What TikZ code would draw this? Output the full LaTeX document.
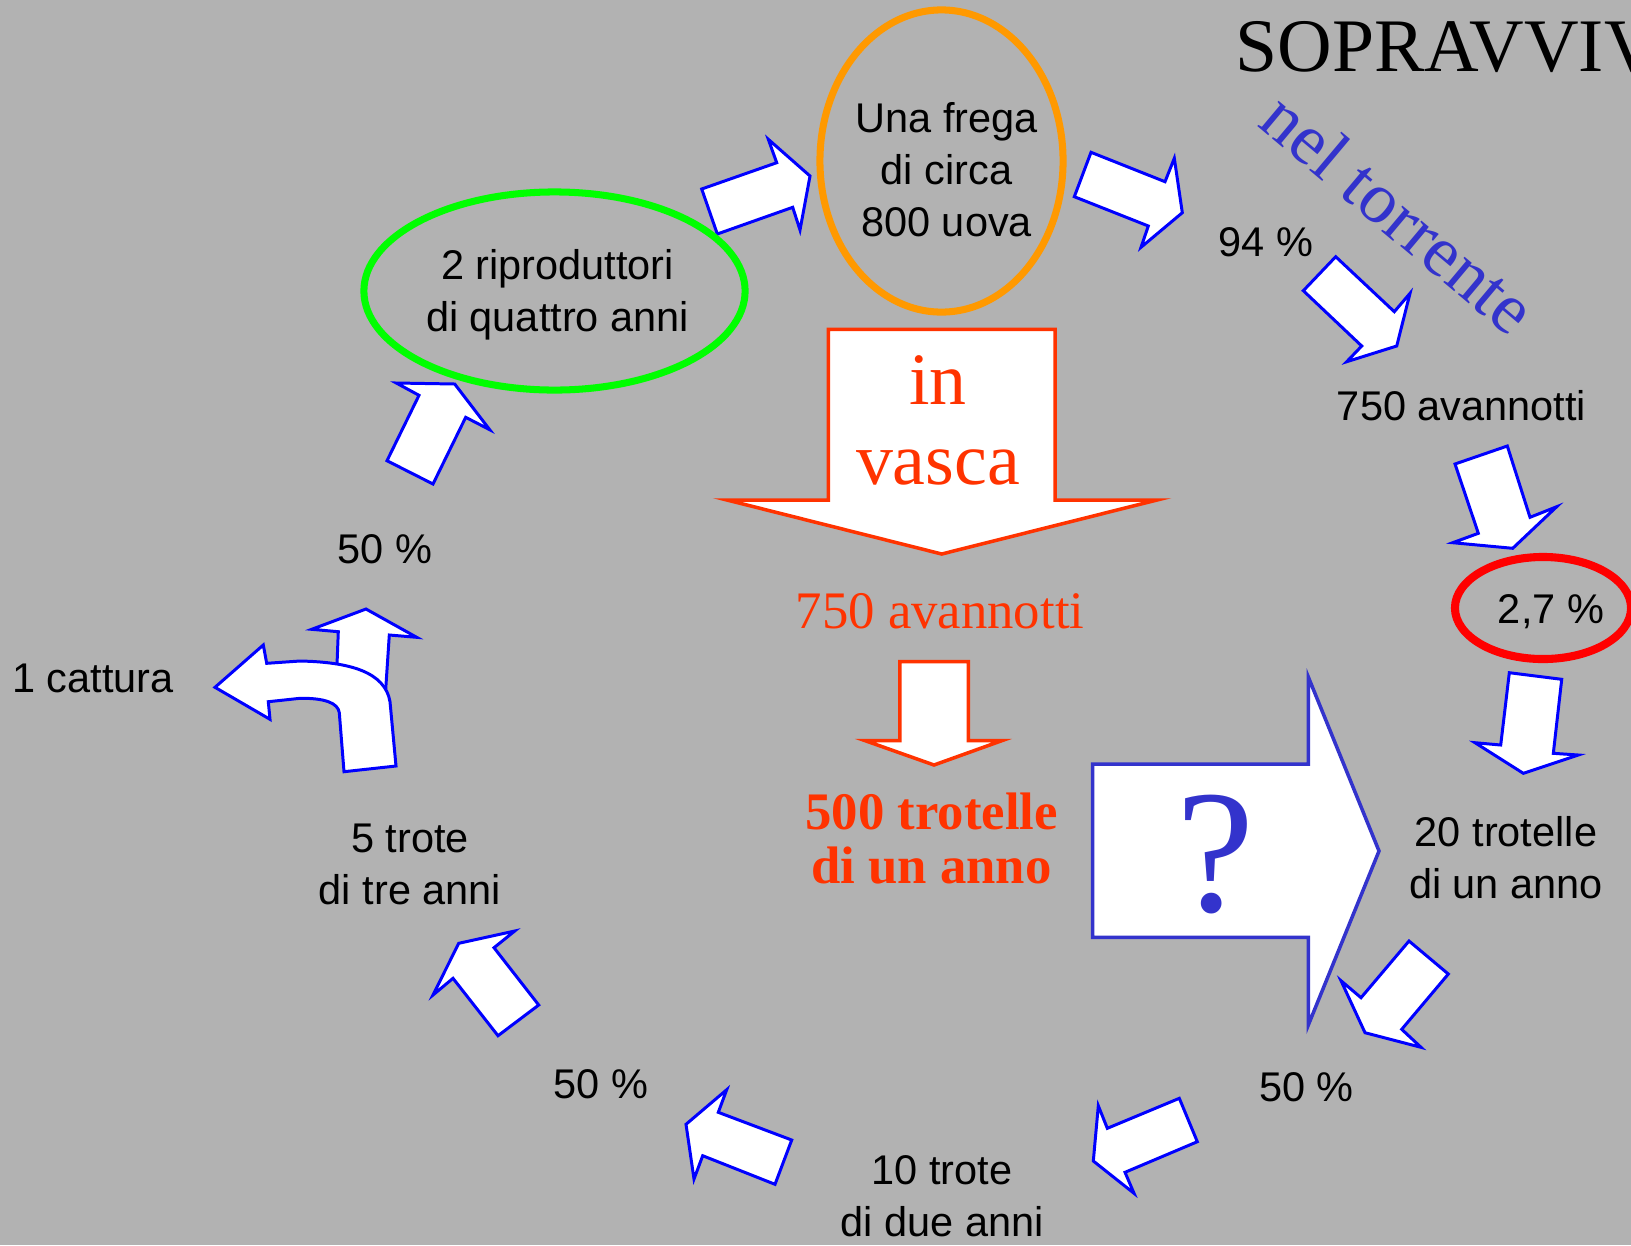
\documentclass[tikz,border=0pt]{standalone}
\usepackage{fontspec}
\setmainfont{Liberation Sans}
\newfontfamily\timesfont{Liberation Serif}
\usetikzlibrary{shapes.geometric}

\definecolor{bggray}{RGB}{178,178,178}
\definecolor{arrblue}{RGB}{0,0,255}
\definecolor{qblue}{RGB}{51,51,204}
\definecolor{vascared}{RGB}{255,51,0}
\definecolor{ringorange}{RGB}{255,153,0}
\definecolor{ringgreen}{RGB}{0,255,0}
\definecolor{ringred}{RGB}{255,0,0}

\tikzset{
  lbl/.style={align=center, inner sep=0pt, font=\fontsize{11.8}{14.8}\selectfont},
  blk/.style={draw=arrblue, fill=white, line width=0.85pt, line join=miter},
  bigarr/.style={fill=white, line width=1pt, line join=miter},
  ring/.style={ellipse, draw, inner sep=0pt, line width=2pt}
}

\begin{document}
\begin{tikzpicture}[x=0.01cm, y=-0.01cm]
\fill[bggray] (0,0) rectangle (1631,1245);
\useasboundingbox (0,0) rectangle (1631,1245);
\clip (0,0) rectangle (1631,1245);

\draw[bigarr, draw=vascared] (828.3,329.3) -- (1055,329.3) -- (1055,500) -- (1157,500)
  -- (941.7,554) -- (727,500) -- (828.3,500) -- cycle;
\draw[bigarr, draw=vascared] (899.8,661.6) -- (968.4,661.6) -- (968.4,740.6) -- (1002,740.6)
  -- (934,765) -- (865,740.6) -- (899.8,740.6) -- cycle;
\draw[bigarr, draw=qblue] (1092.7,764) -- (1308.3,764) -- (1308.3,677) -- (1379,851)
  -- (1308.3,1025) -- (1308.3,937.3) -- (1092.7,937.3) -- cycle;

\draw[blk] (701.7,189) -- (776.7,162.7) -- (768.3,139.3) -- (810,176) -- (800,230) -- (792.7,207.3) -- (717.3,234) -- cycle;
\draw[blk] (1091,152.3) -- (1165,181.7) -- (1174.3,158.3) -- (1182.3,212.7) -- (1141,247.3) -- (1148.3,226) -- (1074.3,196.7) -- cycle;
\draw[blk] (1335.7,256.7) -- (1394.3,311.7) -- (1410,293.3) -- (1396.7,346) -- (1346.7,361.7) -- (1361.7,346) -- (1303.3,290.7) -- cycle;
\draw[blk] (1455,464) -- (1507.3,446) -- (1530,517.3) -- (1556.7,506.7) -- (1512.7,548.3) -- (1452.7,542.7) -- (1478.3,533.3) -- cycle;
\draw[blk] (1509.3,672.7) -- (1561.7,679.3) -- (1553.3,753.3) -- (1578.3,755) -- (1523.3,773.3) -- (1475,742.7) -- (1500.7,745) -- cycle;
\draw[blk] (1409,941) -- (1448.3,974) -- (1401.7,1029.3) -- (1421,1047.3) -- (1365,1032.7) -- (1341,980.7) -- (1361,997.7) -- cycle;
\draw[blk] (1179.3,1098.3) -- (1197.3,1141.7) -- (1125,1172.3) -- (1134,1193.3) -- (1093.3,1161) -- (1098.3,1105.7) -- (1107.3,1128.3) -- cycle;
\draw[blk] (791.7,1140) -- (775,1184.3) -- (702.7,1155.7) -- (694,1179) -- (686,1124.3) -- (726.7,1089.7) -- (718.3,1112.3) -- cycle;
\draw[blk] (538.7,1005) -- (498,1035.7) -- (453,978.3) -- (433,995) -- (458.7,943.3) -- (514.7,931) -- (494,947.7) -- cycle;
\draw[blk] (433,484) -- (387,460.7) -- (419,395.3) -- (396.3,383) -- (454.7,384) -- (489.7,429.7) -- (465.7,417.3) -- cycle;

\draw[blk] (336,690) -- (338.3,631.7) -- (311.7,629.3) -- (366,609) -- (416.7,637.3) -- (389.3,635) -- (385,700) -- cycle;
\draw[blk] (344,771.7) -- (396,766) -- (390,701.7) .. controls (385,672) and (350,662) .. (300,661)
  -- (266.7,663.3) -- (263.3,645) -- (215,687.3) -- (270,719.3) -- (268.3,701.7) -- (300,698.3)
  .. controls (325,698) and (338,703) .. (339.3,712.7) -- cycle;

\node[ring, draw=ringorange, minimum width=2.43cm, minimum height=3.02cm] (frega) at (941.5,161) {};
\node[ring, draw=ringgreen, minimum width=3.81cm, minimum height=1.98cm] (ripr) at (554.5,291) {};
\node[ring, draw=ringred, line width=2.3pt, minimum width=1.76cm, minimum height=1.02cm] (anello) at (1543,608) {};

\node[lbl] (fregatxt) at (946.6,169.5) {Una frega\\di circa\\800 uova};
\node[lbl] (riprtxt) at (557.5,295) {2 riproduttori\\di quattro anni};
\node[lbl] (p94) at (1266,242) {94 \%};
\node[lbl] (avan) at (1461.5,405.7) {750 avannotti};
\node[lbl] (p27) at (1551,611.6) {2,7 \%};
\node[lbl] (trot1) at (1506,858) {20 trotelle\\di un anno};
\node[lbl] (p50a) at (1306.5,1087) {50 \%};
\node[lbl] (trot2) at (942,1196) {10 trote\\di due anni};
\node[lbl] (p50b) at (600.7,1084) {50 \%};
\node[lbl] (trot3) at (410,864) {5 trote\\di tre anni};
\node[lbl] (catt) at (93,678) {1 cattura};
\node[lbl] (p50c) at (385,549) {50 \%};

\node[lbl, text=vascared, font=\timesfont\fontsize{21}{22.8}\selectfont] (vasca) at (938,420) {in\\vasca};
\node[lbl, text=vascared, font=\timesfont\fontsize{15}{16}\selectfont] (avanvasca) at (940,611) {750 avannotti};
\node[lbl, text=vascared, font=\timesfont\bfseries\fontsize{15}{15.6}\selectfont] (trotvasca) at (931.5,838.5) {500 trotelle\\di un anno};
\node[inner sep=0pt, text=qblue, font=\timesfont\fontsize{50}{50}\selectfont] (domanda) at (1215,855) {?};
\node[anchor=base west, inner sep=0pt, font=\timesfont\fontsize{21.5}{22}\selectfont] (titolo) at (1235,71.7) {SOPRAVVIV};
\node[inner sep=0pt, rotate=-40, text=qblue, font=\timesfont\fontsize{20.5}{22}\selectfont] (torrente) at (1399,213) {nel torrente};
\end{tikzpicture}
\end{document}
